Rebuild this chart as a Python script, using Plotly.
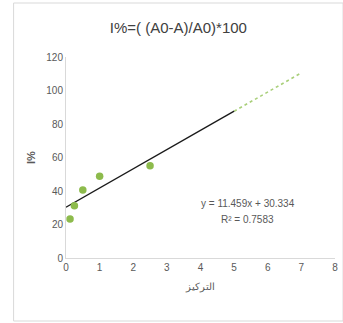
import plotly.graph_objects as go

# Measured data
concentration = [0.12, 0.25, 0.5, 1.0, 2.5]
inhibition = [23.3, 31.2, 40.6, 48.8, 55.1]

# Linear trendline coefficients (y = slope*x + intercept)
slope = 11.459
intercept = 30.334
r_squared = 0.7583
trend_x = [0, 5]
forecast_x = [5, 7]

x_ticks = [0, 1, 2, 3, 4, 5, 6, 7, 8]
y_ticks = [0, 20, 40, 60, 80, 100, 120]

FONT = "Liberation Sans Narrow, Liberation Sans, Arial"
GREY = "#595959"

fig = go.Figure()

fig.add_trace(go.Scatter(
    x=forecast_x, y=[slope * v + intercept for v in forecast_x],
    mode="lines", line=dict(color="#a9cf7a", width=1.6, dash="dot"),
    showlegend=False, hoverinfo="skip"))

fig.add_trace(go.Scatter(
    x=trend_x, y=[slope * v + intercept for v in trend_x],
    mode="lines", line=dict(color="#1a1a1a", width=1.4),
    showlegend=False, hoverinfo="skip"))

fig.add_trace(go.Scatter(
    x=concentration, y=inhibition, mode="markers",
    marker=dict(color="#8dbb4c", size=7.5),
    showlegend=False))

fig.update_layout(
    width=343, height=323,
    margin=dict(l=66, r=5, t=57, b=65),
    paper_bgcolor="white", plot_bgcolor="white",
    font=dict(family=FONT, color=GREY, size=10),
    title=dict(text="I%=( (A0-A)/A0)*100", x=0.52, xanchor="center",
               y=1 - 28 / 323, yanchor="middle",
               font=dict(family=FONT, size=15, color="#404040")),
    xaxis=dict(range=[0, 8], tickvals=x_ticks, showgrid=False, zeroline=False,
               showline=True, linecolor="#d9d9d9", linewidth=1, ticks="",
               tickfont=dict(size=10, color=GREY),
               title=dict(text="التركيز", font=dict(size=10, color=GREY), standoff=10)),
    yaxis=dict(range=[0, 120], tickvals=y_ticks, showgrid=False, zeroline=False,
               showline=True, linecolor="#d9d9d9", linewidth=1, ticks="",
               tickfont=dict(size=10, color=GREY),
               title=dict(text="<b>I%</b>", font=dict(size=11, color=GREY), standoff=8)),
    annotations=[
        dict(x=5.4, y=32.5, xref="x", yref="y",
             text=f"y = {slope}x + {intercept}", showarrow=False,
             font=dict(size=10, color=GREY)),
        dict(x=5.4, y=23, xref="x", yref="y",
             text=f"R² = {r_squared}", showarrow=False,
             font=dict(size=10, color=GREY)),
    ],
    shapes=[dict(type="rect", xref="paper", yref="paper",
                 x0=(13 - 66) / 272, x1=1.03,
                 y0=(258 - 321) / 201, y1=(258 - 3) / 201,
                 line=dict(color="#d9d9d9", width=1), layer="below")],
)

fig.write_html("out.html")
